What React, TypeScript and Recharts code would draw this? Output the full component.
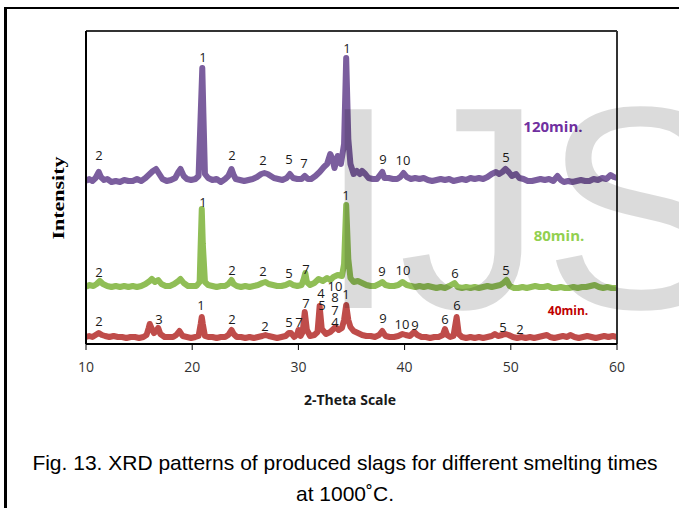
import React from 'react';
import { LineChart, Line, XAxis, YAxis, ReferenceLine, ReferenceDot } from 'recharts';

// XRD traces: [2-theta, intensity (a.u., offset per trace)]
const purple120: [number, number][] = [
  [10.0, 163], [10.3, 165], [10.6, 163], [10.9, 166], [11.2, 172], [11.4, 167], [11.7, 164], [12.0, 165],
  [12.4, 162], [12.8, 163], [13.2, 162], [13.6, 164], [14.0, 163], [14.4, 163], [14.8, 165], [15.2, 163],
  [15.6, 166], [15.9, 169], [16.3, 173], [16.6, 175], [16.9, 170], [17.2, 165], [17.6, 163], [18.0, 164],
  [18.4, 166], [18.7, 172], [18.9, 175], [19.2, 168], [19.5, 165], [19.9, 164], [20.3, 165], [20.6, 168],
  [20.8, 230], [20.95, 276], [21.05, 232], [21.2, 170], [21.5, 166], [21.9, 164], [22.3, 165], [22.7, 162],
  [23.1, 165], [23.4, 168], [23.7, 175], [23.9, 169], [24.1, 165], [24.5, 164], [24.9, 163], [25.3, 164],
  [25.7, 165], [26.1, 167], [26.5, 170], [26.8, 171], [27.1, 170], [27.4, 168], [27.7, 166], [28.1, 165],
  [28.5, 164], [28.9, 166], [29.2, 170], [29.5, 166], [29.9, 165], [30.3, 165], [30.6, 168], [30.9, 165],
  [31.2, 165], [31.6, 168], [32.0, 172], [32.4, 177], [32.7, 180], [33.0, 190], [33.2, 185], [33.4, 176],
  [33.7, 188], [34.0, 180], [34.3, 200], [34.5, 286], [34.7, 205], [34.9, 180], [35.2, 170], [35.5, 173],
  [35.8, 170], [36.0, 173], [36.3, 170], [36.6, 166], [37.0, 165], [37.4, 165], [37.9, 172], [38.1, 166],
  [38.5, 166], [38.9, 165], [39.3, 165], [39.6, 167], [39.9, 171], [40.2, 167], [40.6, 165], [41.0, 166],
  [41.4, 165], [41.8, 166], [42.2, 164], [42.6, 163], [43.0, 164], [43.4, 165], [43.8, 164], [44.2, 165],
  [44.6, 163], [45.0, 164], [45.4, 165], [45.8, 164], [46.2, 166], [46.6, 165], [47.0, 166], [47.4, 165],
  [47.8, 167], [48.2, 170], [48.6, 172], [48.9, 170], [49.2, 172], [49.5, 175], [49.8, 172], [50.1, 168],
  [50.5, 170], [50.8, 166], [51.2, 165], [51.6, 163], [52.0, 163], [52.4, 164], [52.8, 165], [53.2, 164],
  [53.6, 165], [54.0, 163], [54.4, 168], [54.7, 164], [55.0, 162], [55.4, 163], [55.8, 162], [56.2, 163],
  [56.6, 164], [57.0, 163], [57.4, 163], [57.8, 165], [58.2, 164], [58.6, 166], [59.0, 165], [59.4, 169],
  [59.7, 167], [60.0, 166],
];

const green80: [number, number][] = [
  [10.0, 57], [10.3, 59], [10.7, 58], [11.0, 60], [11.3, 63], [11.6, 60], [12.0, 58], [12.4, 57],
  [12.8, 58], [13.2, 57], [13.6, 58], [14.0, 57], [14.4, 58], [14.8, 57], [15.2, 58], [15.6, 60],
  [16.0, 63], [16.2, 65], [16.5, 62], [16.8, 64], [17.1, 60], [17.5, 58], [17.9, 58], [18.3, 60],
  [18.7, 63], [18.9, 65], [19.2, 61], [19.6, 58], [20.0, 58], [20.4, 58], [20.7, 62], [20.8, 100],
  [20.9, 135], [21.0, 100], [21.2, 62], [21.5, 59], [21.9, 58], [22.3, 57], [22.7, 58], [23.1, 58],
  [23.4, 60], [23.7, 64], [23.9, 60], [24.2, 58], [24.6, 57], [25.0, 58], [25.4, 57], [25.8, 58],
  [26.2, 59], [26.6, 61], [26.9, 62], [27.2, 60], [27.6, 59], [28.0, 58], [28.4, 58], [28.8, 59],
  [29.2, 61], [29.5, 59], [29.9, 58], [30.3, 59], [30.5, 65], [30.65, 71], [30.8, 62], [31.1, 59],
  [31.5, 61], [31.9, 65], [32.3, 63], [32.7, 66], [33.0, 64], [33.3, 67], [33.7, 69], [34.1, 68],
  [34.3, 80], [34.5, 139], [34.7, 85], [34.9, 66], [35.2, 62], [35.6, 63], [36.0, 61], [36.4, 59],
  [36.8, 58], [37.2, 58], [37.6, 60], [37.9, 62], [38.2, 59], [38.6, 58], [39.0, 58], [39.4, 59],
  [39.8, 62], [40.2, 59], [40.6, 58], [41.0, 57], [41.4, 58], [41.8, 57], [42.2, 58], [42.6, 57],
  [43.0, 56], [43.4, 57], [43.8, 56], [44.2, 58], [44.7, 61], [45.0, 57], [45.4, 56], [45.8, 57],
  [46.2, 56], [46.6, 57], [47.0, 56], [47.4, 57], [47.8, 58], [48.2, 57], [48.6, 58], [49.0, 59],
  [49.3, 61], [49.6, 64], [49.9, 58], [50.3, 56], [50.7, 56], [51.1, 57], [51.5, 56], [51.9, 57],
  [52.3, 58], [52.7, 57], [53.1, 57], [53.5, 58], [53.9, 56], [54.3, 56], [54.7, 57], [55.1, 56],
  [55.5, 56], [55.9, 57], [56.3, 56], [56.7, 57], [57.1, 57], [57.5, 58], [57.9, 59], [58.3, 57],
  [58.7, 56], [59.1, 57], [59.5, 56], [60.0, 56],
];

const red40: [number, number][] = [
  [10.0, 7], [10.3, 8], [10.6, 7], [10.9, 9], [11.2, 11], [11.5, 9], [11.8, 8], [12.2, 7],
  [12.6, 8], [13.0, 7], [13.4, 7], [13.8, 6], [14.2, 7], [14.6, 7], [15.0, 6], [15.4, 7],
  [15.7, 9], [15.9, 16], [16.0, 20], [16.2, 15], [16.4, 11], [16.6, 13], [16.8, 16], [17.0, 10],
  [17.4, 7], [17.8, 7], [18.2, 7], [18.5, 9], [18.8, 13], [19.1, 8], [19.5, 7], [19.9, 6],
  [20.3, 7], [20.6, 8], [20.8, 20], [20.9, 27], [21.0, 20], [21.2, 8], [21.5, 7], [21.9, 7],
  [22.3, 6], [22.7, 7], [23.1, 7], [23.4, 9], [23.7, 14], [23.9, 10], [24.2, 7], [24.6, 7],
  [25.0, 6], [25.4, 7], [25.8, 6], [26.2, 7], [26.6, 8], [26.9, 9], [27.2, 8], [27.6, 7],
  [28.0, 6], [28.4, 7], [28.8, 8], [29.1, 11], [29.3, 11], [29.6, 7], [29.9, 10], [30.0, 14],
  [30.2, 8], [30.4, 12], [30.6, 32], [30.8, 14], [31.1, 8], [31.5, 9], [31.8, 12], [32.0, 38],
  [32.2, 15], [32.6, 10], [33.0, 12], [33.3, 15], [33.5, 17], [33.8, 14], [34.1, 16], [34.3, 24],
  [34.5, 39], [34.7, 24], [34.9, 17], [35.2, 13], [35.6, 11], [36.0, 9], [36.4, 8], [36.8, 8],
  [37.2, 7], [37.6, 9], [37.9, 13], [38.2, 8], [38.6, 7], [39.0, 7], [39.4, 8], [39.8, 10],
  [40.1, 9], [40.5, 8], [40.9, 12], [41.2, 9], [41.6, 7], [42.0, 7], [42.4, 6], [42.8, 7],
  [43.2, 7], [43.6, 9], [43.8, 15], [44.0, 9], [44.3, 7], [44.6, 8], [44.9, 27], [45.1, 10],
  [45.4, 7], [45.8, 6], [46.2, 7], [46.6, 6], [47.0, 7], [47.4, 6], [47.8, 7], [48.2, 8],
  [48.5, 10], [48.8, 8], [49.2, 9], [49.5, 10], [49.8, 9], [50.2, 7], [50.6, 6], [51.0, 7],
  [51.4, 6], [51.8, 7], [52.2, 6], [52.6, 7], [53.0, 8], [53.4, 9], [53.7, 7], [54.1, 6],
  [54.5, 7], [54.9, 8], [55.3, 7], [55.6, 9], [56.0, 7], [56.4, 6], [56.8, 7], [57.2, 8],
  [57.6, 7], [58.0, 6], [58.4, 7], [58.8, 8], [59.2, 7], [59.6, 8], [60.0, 7],
];

// phase numbers written above the peaks: [2-theta, intensity, text]
const purpleLabels: [number, number, string][] = [
  [11.22, 189, '2'], [21.02, 287, '1'], [23.75, 189, '2'], [26.67, 184, '2'], [29.11, 185, '5'],
  [30.53, 181, '7'], [34.58, 296, '1'], [37.97, 185, '9'], [39.85, 184, '10'], [49.55, 187, '5'],
];
const greenLabels: [number, number, string][] = [
  [11.22, 72, '2'], [21.02, 142, '1'], [23.75, 74, '2'], [26.67, 73, '2'], [29.11, 71, '5'],
  [30.72, 75, '7'], [33.45, 58, '10'], [34.48, 149, '1'], [37.87, 73, '9'], [39.85, 74, '10'],
  [44.75, 71, '6'], [49.55, 74, '5'],
];
const redLabels: [number, number, string][] = [
  [11.22, 23, '2'], [16.87, 25, '3'], [20.83, 39, '1'], [23.75, 25, '2'], [26.85, 18, '2'],
  [29.11, 22, '5'], [30.06, 22, '7'], [30.72, 41, '7'], [32.13, 51, '4'], [32.22, 39, '5'],
  [33.45, 47, '8'], [33.45, 34, '7'], [33.45, 22, '4'], [34.48, 50, '1'], [37.97, 26, '9'],
  [39.76, 20, '10'], [40.98, 19, '9'], [43.8, 25, '6'], [44.93, 39, '6'], [49.27, 17, '5'],
  [50.87, 15, '2'],
];

const seriesNames = ['120min.', '80min.', '40min.'];
const namePos: [number, number][] = [[53.97, 218], [54.54, 109], [55.39, 34]];
const xTicks = [10, 20, 30, 40, 50, 60];

const PURPLE = '#7b5e9e';
const GREEN = '#90be56';
const RED = '#bf4c4a';
const nameColors = ['#7030a0', '#92d050', '#c00000'];
const nameSizes = [15, 15, 12];

const toRows = (pts: [number, number][]) => pts.map(([t, v]) => ({ t, v }));

function peakText(txt: string) {
  return (p: any) => (
    <text x={p.cx} y={p.cy} textAnchor="middle" dominantBaseline="central"
      fontFamily="'Open Sans', sans-serif" fontSize={13} fill="#1a1a1a">{txt}</text>
  );
}

export default function App() {
  const allLabels = [...purpleLabels, ...greenLabels, ...redLabels];
  return (
    <div style={{ position: 'absolute', left: 0, top: 0, width: 679, height: 508, overflow: 'hidden', background: '#fff' }}>
      <div style={{ position: 'absolute', left: 4, top: 7, width: 720, height: 600, borderLeft: '3px solid #000', borderTop: '2px solid #000' }} />
      <div style={{ position: 'absolute', left: 0, top: 0 }}>
        <LineChart width={679} height={420} margin={{ top: 31, right: 62, left: 86, bottom: 46 }}>
          <XAxis dataKey="t" type="number" domain={[10, 60]} ticks={xTicks} height={30}
            axisLine={{ stroke: '#000', strokeWidth: 2 }} tickLine={{ stroke: '#000' }} tickSize={6} tickMargin={12}
            tick={{ fill: '#333', fontSize: 14, fontFamily: "'Open Sans', sans-serif" }} allowDataOverflow />
          <YAxis hide type="number" domain={[0, 313]} allowDataOverflow />
          <Line data={toRows(purple120)} dataKey="v" stroke={PURPLE} strokeWidth={6} dot={false} isAnimationActive={false} strokeLinejoin="round" />
          <Line data={toRows(green80)} dataKey="v" stroke={GREEN} strokeWidth={6} dot={false} isAnimationActive={false} strokeLinejoin="round" />
          <Line data={toRows(red40)} dataKey="v" stroke={RED} strokeWidth={6} dot={false} isAnimationActive={false} strokeLinejoin="round" />
          <ReferenceLine y={313} stroke="#333" strokeWidth={2} />
          <ReferenceLine x={60} stroke="#333" strokeWidth={2} />
          <ReferenceLine x={10} stroke="#000" strokeWidth={2} />
          {allLabels.map(([t, v, txt], i) => (
            <ReferenceDot key={'l' + i} x={t} y={v} r={0} shape={peakText(txt)} />
          ))}
          {seriesNames.map((n, i) => (
            <ReferenceDot key={'n' + i} x={namePos[i][0]} y={namePos[i][1]} r={0}
              shape={(p: any) => (
                <text x={p.cx} y={p.cy} textAnchor="middle" dominantBaseline="central" fontWeight="bold"
                  fontFamily="'Open Sans', sans-serif" fontSize={nameSizes[i]} fill={nameColors[i]}>{n}</text>
              )} />
          ))}
        </LineChart>
      </div>
      <svg width={679} height={508} style={{ position: 'absolute', left: 0, top: 0, pointerEvents: 'none' }}>
        <text x={350} y={399} textAnchor="middle" dominantBaseline="central" fontWeight="bold"
          fontFamily="'Open Sans', sans-serif" fontSize={14} fill="#1a1a1a">2-Theta Scale</text>
        <text x={58} y={198} transform="rotate(-90 58 198)" textAnchor="middle" dominantBaseline="central"
          fontWeight="bold" fontFamily="'Liberation Serif', serif" fontSize={17} fill="#000"
          textLength={83} lengthAdjust="spacingAndGlyphs">Intensity</text>
        <text x={318} y={308} fontFamily="'Liberation Sans', Arial, sans-serif" fontSize={289} fill="#000" fillOpacity={0.14}>IJS</text>
      </svg>
      <div style={{ position: 'absolute', left: 0, top: 447, width: 690, textAlign: 'center', fontFamily: "'Liberation Sans', Arial, sans-serif", fontSize: 21, lineHeight: '31px', color: '#000' }}>
        Fig. 13. XRD patterns of produced slags for different smelting times<br />at 1000˚C.
      </div>
    </div>
  );
}
